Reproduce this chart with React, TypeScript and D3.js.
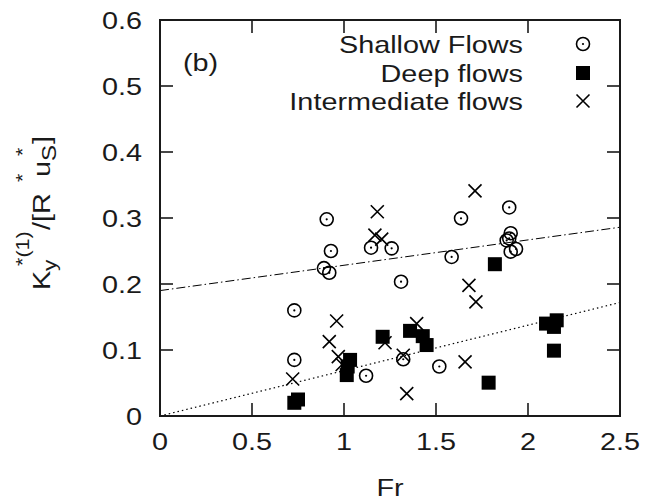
import React from "react";
import * as d3 from "d3";

const shallowX = [0.73, 0.73, 0.891, 0.906, 0.92, 0.929, 1.12, 1.147, 1.259, 1.31, 1.322, 1.518, 1.585, 1.636, 1.898, 1.906, 1.884, 1.898, 1.906, 1.935];
const shallowY = [0.16, 0.085, 0.224, 0.298, 0.217, 0.25, 0.061, 0.255, 0.254, 0.2035, 0.086, 0.075, 0.241, 0.2995, 0.316, 0.277, 0.266, 0.269, 0.249, 0.253];

const deepX = [0.73, 0.75, 1.015, 1.02, 1.033, 1.21, 1.359, 1.428, 1.449, 1.786, 1.82, 2.098, 2.141, 2.156, 2.141];
const deepY = [0.02, 0.025, 0.062, 0.075, 0.085, 0.12, 0.129, 0.121, 0.1075, 0.0505, 0.23, 0.14, 0.135, 0.145, 0.099];

const interX = [0.721, 0.92, 0.96, 0.969, 0.99, 1.168, 1.181, 1.205, 1.223, 1.322, 1.341, 1.395, 1.658, 1.679, 1.712, 1.717];
const interY = [0.056, 0.1126, 0.144, 0.09, 0.078, 0.274, 0.3095, 0.268, 0.111, 0.092, 0.034, 0.14, 0.082, 0.198, 0.341, 0.173];

const fitX = [0, 2.5];
const shallowFit = [0.19, 0.286];
const deepFit = [0, 0.172];

const xTicks = [0, 0.5, 1, 1.5, 2, 2.5];
const xTickLabels = ["0", "0.5", "1", "1.5", "2", "2.5"];
const yTicks = [0, 0.1, 0.2, 0.3, 0.4, 0.5, 0.6];
const yTickLabels = ["0", "0.1", "0.2", "0.3", "0.4", "0.5", "0.6"];

const legendLabels = ["Shallow Flows", "Deep flows", "Intermediate flows"];

const W = 658, H = 502;
const L = 160, R = 620, T = 20, B = 416;
const FONT = "'Liberation Sans', Arial, Helvetica, sans-serif";
const SX = 1.2;
const INK = "#1a1a1a";

function T2({ x, y, size = 24, anchor = "start", children }: any) {
  return (
    <text
      transform={`translate(${x},${y}) scale(${SX},1)`}
      fontSize={size}
      fontFamily={FONT}
      textAnchor={anchor}
      fill={INK}
    >
      {children}
    </text>
  );
}

function Circ({ cx, cy }: any) {
  return (
    <g>
      <circle cx={cx} cy={cy} r={6.5} fill="none" stroke="#000" strokeWidth={1.6} />
      <circle cx={cx} cy={cy} r={1.1} fill="#000" />
    </g>
  );
}
function Sq({ cx, cy }: any) {
  return <rect x={cx - 7} y={cy - 7} width={14} height={14} fill="#000" />;
}
function Cross({ cx, cy }: any) {
  const s = 6.5;
  return (
    <path
      d={`M${cx - s},${cy - s}L${cx + s},${cy + s}M${cx - s},${cy + s}L${cx + s},${cy - s}`}
      stroke="#000"
      strokeWidth={1.6}
      fill="none"
    />
  );
}

export default function App() {
  const x = d3.scaleLinear().domain([0, 2.5]).range([L, R]);
  const y = d3.scaleLinear().domain([0, 0.6]).range([B, T]);
  const line = d3
    .line<number>()
    .x((_, i) => x(fitX[i]))
    .y((v) => y(v));

  const tickLen = 13;
  const legendRows = [44, 73, 101];

  return (
    <svg width={W} height={H} style={{ position: "absolute", left: 0, top: 0, background: "#fff" }}>
      <rect width={W} height={H} fill="#fff" />
      {/* fit lines */}
      <path d={line(shallowFit) || ""} stroke="#000" strokeWidth={1} fill="none" strokeDasharray="9,3,1.5,3" />
      <path d={line(deepFit) || ""} stroke="#000" strokeWidth={1.2} fill="none" strokeDasharray="1.5,3" />

      {/* points */}
      {shallowX.map((v, i) => (
        <Circ key={"s" + i} cx={x(v)} cy={y(shallowY[i])} />
      ))}
      {deepX.map((v, i) => (
        <Sq key={"d" + i} cx={x(v)} cy={y(deepY[i])} />
      ))}
      {interX.map((v, i) => (
        <Cross key={"i" + i} cx={x(v)} cy={y(interY[i])} />
      ))}

      {/* frame */}
      <rect x={L} y={T} width={R - L} height={B - T} fill="none" stroke={INK} strokeWidth={2} />
      {xTicks.map((t, i) => (
        <g key={"xt" + i}>
          <line x1={x(t)} x2={x(t)} y1={B} y2={B - tickLen} stroke={INK} strokeWidth={1.6} />
          <line x1={x(t)} x2={x(t)} y1={T} y2={T + tickLen} stroke={INK} strokeWidth={1.6} />
          <T2 x={x(t)} y={450} anchor="middle">{xTickLabels[i]}</T2>
        </g>
      ))}
      {yTicks.map((t, i) => (
        <g key={"yt" + i}>
          <line x1={L} x2={L + tickLen} y1={y(t)} y2={y(t)} stroke={INK} strokeWidth={1.6} />
          <line x1={R} x2={R - tickLen} y1={y(t)} y2={y(t)} stroke={INK} strokeWidth={1.6} />
          <T2 x={142} y={y(t) + 8.5} anchor="end">{yTickLabels[i]}</T2>
        </g>
      ))}

      {/* x label */}
      <T2 x={390} y={496} anchor="middle">Fr</T2>

      {/* y label */}
      <g transform="translate(50,218) rotate(-90)">
        <T2 x={-72} y={0}>K</T2>
        <T2 x={-53} y={6} size={19}>y</T2>
        <T2 x={-48} y={-21} size={18}>*(1)</T2>
        <T2 x={-12} y={0}>/[R</T2>
        <T2 x={36} y={-21} size={18}>*</T2>
        <T2 x={41} y={0}>u</T2>
        <T2 x={57} y={6} size={20}>S</T2>
        <T2 x={62} y={-21} size={18}>*</T2>
        <T2 x={74} y={0}>]</T2>
      </g>

      {/* panel label */}
      <T2 x={183} y={71}>(b)</T2>

      {/* legend */}
      {legendLabels.map((lab, i) => (
        <g key={"lg" + i}>
          <T2 x={523} y={legendRows[i] + 9} anchor="end">{lab}</T2>
        </g>
      ))}
      <Circ cx={583} cy={legendRows[0]} />
      <Sq cx={583} cy={legendRows[1]} />
      <Cross cx={583} cy={legendRows[2]} />
    </svg>
  );
}
